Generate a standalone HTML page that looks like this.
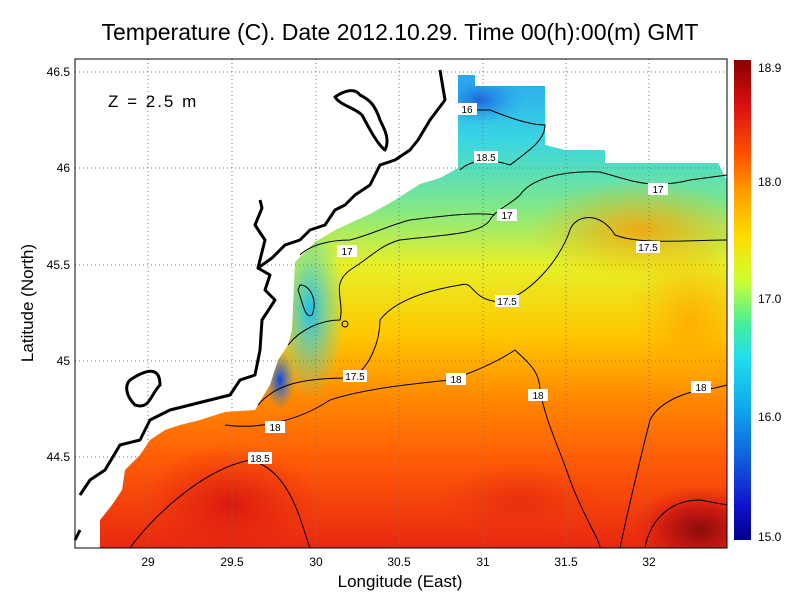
<!DOCTYPE html>
<html><head><meta charset="utf-8"><style>
body{margin:0;background:#fff;width:800px;height:600px;overflow:hidden}
svg text{font-family:"Liberation Sans",sans-serif}
</style></head><body>
<svg width="800" height="600" viewBox="0 0 800 600" xmlns="http://www.w3.org/2000/svg">
<defs>
<linearGradient id="main" gradientUnits="userSpaceOnUse" x1="0" y1="75" x2="0" y2="548">
<stop offset="0" stop-color="#2aa8ee"/>
<stop offset="0.14" stop-color="#3ad6e2"/>
<stop offset="0.28" stop-color="#80e888"/>
<stop offset="0.4" stop-color="#e6f028"/>
<stop offset="0.55" stop-color="#ffc800"/>
<stop offset="0.68" stop-color="#ff8a00"/>
<stop offset="0.82" stop-color="#ff5a08"/>
<stop offset="1" stop-color="#e82810"/>
</linearGradient>
<linearGradient id="cb" x1="0" y1="0" x2="0" y2="1">
<stop offset="0" stop-color="#8b0000"/>
<stop offset="0.1" stop-color="#dd1111"/>
<stop offset="0.2" stop-color="#ff5500"/>
<stop offset="0.27" stop-color="#ff9900"/>
<stop offset="0.37" stop-color="#ffdd00"/>
<stop offset="0.46" stop-color="#ccff33"/>
<stop offset="0.55" stop-color="#44ee99"/>
<stop offset="0.62" stop-color="#22ddee"/>
<stop offset="0.72" stop-color="#11aaee"/>
<stop offset="0.82" stop-color="#1166dd"/>
<stop offset="0.93" stop-color="#1111cc"/>
<stop offset="1" stop-color="#00008b"/>
</linearGradient>
<radialGradient id="dr"><stop offset="0" stop-color="#8a0c0c"/><stop offset="0.5" stop-color="#cc1a10"/><stop offset="1" stop-color="#e82810" stop-opacity="0"/></radialGradient>
<radialGradient id="rd"><stop offset="0" stop-color="#d81a10"/><stop offset="1" stop-color="#e82810" stop-opacity="0"/></radialGradient>
<radialGradient id="or"><stop offset="0" stop-color="#ff9a00"/><stop offset="1" stop-color="#ffb000" stop-opacity="0"/></radialGradient>
<radialGradient id="cy"><stop offset="0" stop-color="#22c0ee"/><stop offset="1" stop-color="#44dddd" stop-opacity="0"/></radialGradient>
<radialGradient id="bl"><stop offset="0" stop-color="#1040dd"/><stop offset="1" stop-color="#2a90ee" stop-opacity="0"/></radialGradient>
<clipPath id="cp"><path d="M100,548 L100,520 L112,505 L122,490 L125,470 L140,455 L150,440 L165,430 L180,425 L200,420 L225,412 L255,410 L262,398 L270,385 L278,360 L288,345 L292,330 L295,262 L315,242 L335,230 L370,214 L395,200 L420,184 L440,178 L458,168 L458,75 L475,75 L475,86 L545,86 L545,145 L565,150 L605,150 L605,163 L718,163 L727,180 L727,548 Z"/></clipPath>
</defs>
<rect width="800" height="600" fill="#fff"/>
<g clip-path="url(#cp)">
<rect x="75" y="59" width="652" height="489" fill="url(#main)"/>
<ellipse cx="640" cy="230" rx="110" ry="50" fill="url(#or)" opacity="0.8"/>
<ellipse cx="690" cy="320" rx="60" ry="80" fill="url(#or)" opacity="0.6"/>
<ellipse cx="310" cy="310" rx="35" ry="90" fill="url(#cy)"/>
<ellipse cx="280" cy="380" rx="15" ry="30" fill="url(#bl)"/>
<ellipse cx="480" cy="100" rx="45" ry="25" fill="url(#bl)" opacity="0.7"/>
<ellipse cx="230" cy="505" rx="90" ry="60" fill="url(#rd)"/>
<ellipse cx="700" cy="530" rx="70" ry="45" fill="url(#dr)"/>
<ellipse cx="520" cy="500" rx="80" ry="40" fill="url(#rd)" opacity="0.5"/>
</g>
<g stroke="#777" stroke-width="1" stroke-dasharray="1,3">
<line x1="148" y1="59" x2="148" y2="548"/><line x1="232" y1="59" x2="232" y2="548"/><line x1="316" y1="59" x2="316" y2="548"/><line x1="399" y1="59" x2="399" y2="548"/><line x1="483" y1="59" x2="483" y2="548"/><line x1="566" y1="59" x2="566" y2="548"/><line x1="649" y1="59" x2="649" y2="548"/>
<line x1="75" y1="72" x2="727" y2="72"/><line x1="75" y1="168" x2="727" y2="168"/><line x1="75" y1="265" x2="727" y2="265"/><line x1="75" y1="361" x2="727" y2="361"/><line x1="75" y1="457" x2="727" y2="457"/>
</g>
<g fill="none" stroke="#000" stroke-width="1">
<path d="M130,548 C150,520 200,470 250,460 C290,470 300,520 310,548"/>
<path d="M225,425 C260,430 300,420 330,400 C360,390 400,385 450,380 C480,370 500,360 515,350 C525,360 540,370 540,390 C545,420 560,450 570,480 C585,520 600,540 600,548"/>
<path d="M620,548 C630,500 640,460 650,420 C660,400 690,390 715,388 L727,385"/>
<path d="M645,548 C650,520 670,500 700,500 L727,505"/>
<path d="M258,405 C275,385 300,378 350,378 C370,370 380,340 380,320 C395,300 430,290 460,285 C475,280 470,300 500,302 C530,295 560,260 570,230 C575,215 600,210 615,235 C640,245 690,240 727,240"/>
<path d="M288,345 C300,330 320,320 340,320 C345,300 330,285 350,270 C370,258 380,245 400,240 C440,235 480,235 490,220 C495,210 510,205 520,195 C530,180 560,170 600,172 C630,180 650,190 690,180 L727,175"/>
<path d="M300,255 C310,245 330,240 350,240 C370,235 390,225 410,220 C450,215 480,212 495,215"/>
<path d="M460,170 C470,160 490,158 510,165 C530,150 545,140 545,125 C530,125 510,118 490,110 L470,110"/>
<path d="M298,290 C302,300 305,320 312,315 C318,300 310,285 300,285 Z"/>
<circle cx="345" cy="324" r="3"/>
</g>
<g font-size="10" text-anchor="middle">
<g fill="#fff"><rect x="457" y="103" width="20" height="12"/><rect x="474" y="151" width="24" height="12"/><rect x="648" y="183" width="20" height="12"/><rect x="497" y="209" width="20" height="12"/><rect x="337" y="245" width="20" height="12"/><rect x="636" y="241" width="24" height="12"/><rect x="495" y="295" width="24" height="12"/><rect x="343" y="370" width="24" height="12"/><rect x="446" y="373" width="20" height="12"/><rect x="528" y="389" width="20" height="12"/><rect x="691" y="381" width="20" height="12"/><rect x="265" y="421" width="20" height="12"/><rect x="248" y="452" width="24" height="12"/></g>
<text x="467" y="113">16</text><text x="486" y="161">18.5</text><text x="658" y="193">17</text><text x="507" y="219">17</text><text x="347" y="255">17</text><text x="648" y="251">17.5</text><text x="507" y="305">17.5</text><text x="355" y="380">17.5</text><text x="456" y="383">18</text><text x="538" y="399">18</text><text x="701" y="391">18</text><text x="275" y="431">18</text><text x="260" y="462">18.5</text>
</g>
<g fill="none" stroke="#000" stroke-width="3" stroke-linejoin="round">
<path d="M440,70 L445,100 L430,120 L418,140 L410,150 L395,160 L380,165 L370,185 L355,195 L345,205 L335,210 L325,225 L310,230 L300,240 L285,245 L272,258 L258,268 L265,240 L255,225 L262,208 L260,200"/>
<path d="M335,97 C345,90 355,88 360,95 C370,100 375,105 380,120 C385,130 390,140 385,150 C378,145 370,130 362,115 C355,108 340,105 335,97 Z"/>
<path d="M258,268 L270,275 L265,290 L275,300 L262,320 L260,350 L255,375 L240,380 L230,395 L210,400 L190,405 L170,410 L150,420 L140,440 L120,445 L105,470 L90,480 L80,495"/>
<path d="M130,380 C145,370 160,365 160,385 C150,395 150,410 135,405 C125,395 125,385 130,380 Z"/>
<path d="M75,540 L80,530"/>
</g>
<rect x="75" y="59" width="652" height="489" fill="none" stroke="#000" stroke-width="1"/>
<text x="108" y="107" font-size="17" letter-spacing="2">Z = 2.5 m</text>
<g font-size="12" text-anchor="middle">
<text x="148" y="566">29</text><text x="232" y="566">29.5</text><text x="316" y="566">30</text><text x="399" y="566">30.5</text><text x="483" y="566">31</text><text x="566" y="566">31.5</text><text x="649" y="566">32</text>
</g>
<g font-size="12" text-anchor="end">
<text x="70" y="76">46.5</text><text x="70" y="172">46</text><text x="70" y="269">45.5</text><text x="70" y="365">45</text><text x="70" y="461">44.5</text>
</g>
<text x="400" y="587" font-size="17" text-anchor="middle">Longitude (East)</text>
<text transform="translate(33,303) rotate(-90)" font-size="17" text-anchor="middle">Latitude (North)</text>
<text x="400" y="40" font-size="23" text-anchor="middle">Temperature (C). Date 2012.10.29. Time 00(h):00(m) GMT</text>
<rect x="734" y="60" width="17" height="480" fill="url(#cb)"/>
<g font-size="12"><text x="758" y="72">18.9</text><text x="758" y="186">18.0</text><text x="758" y="303">17.0</text><text x="758" y="421">16.0</text><text x="758" y="541">15.0</text></g>
</svg>
</body></html>
